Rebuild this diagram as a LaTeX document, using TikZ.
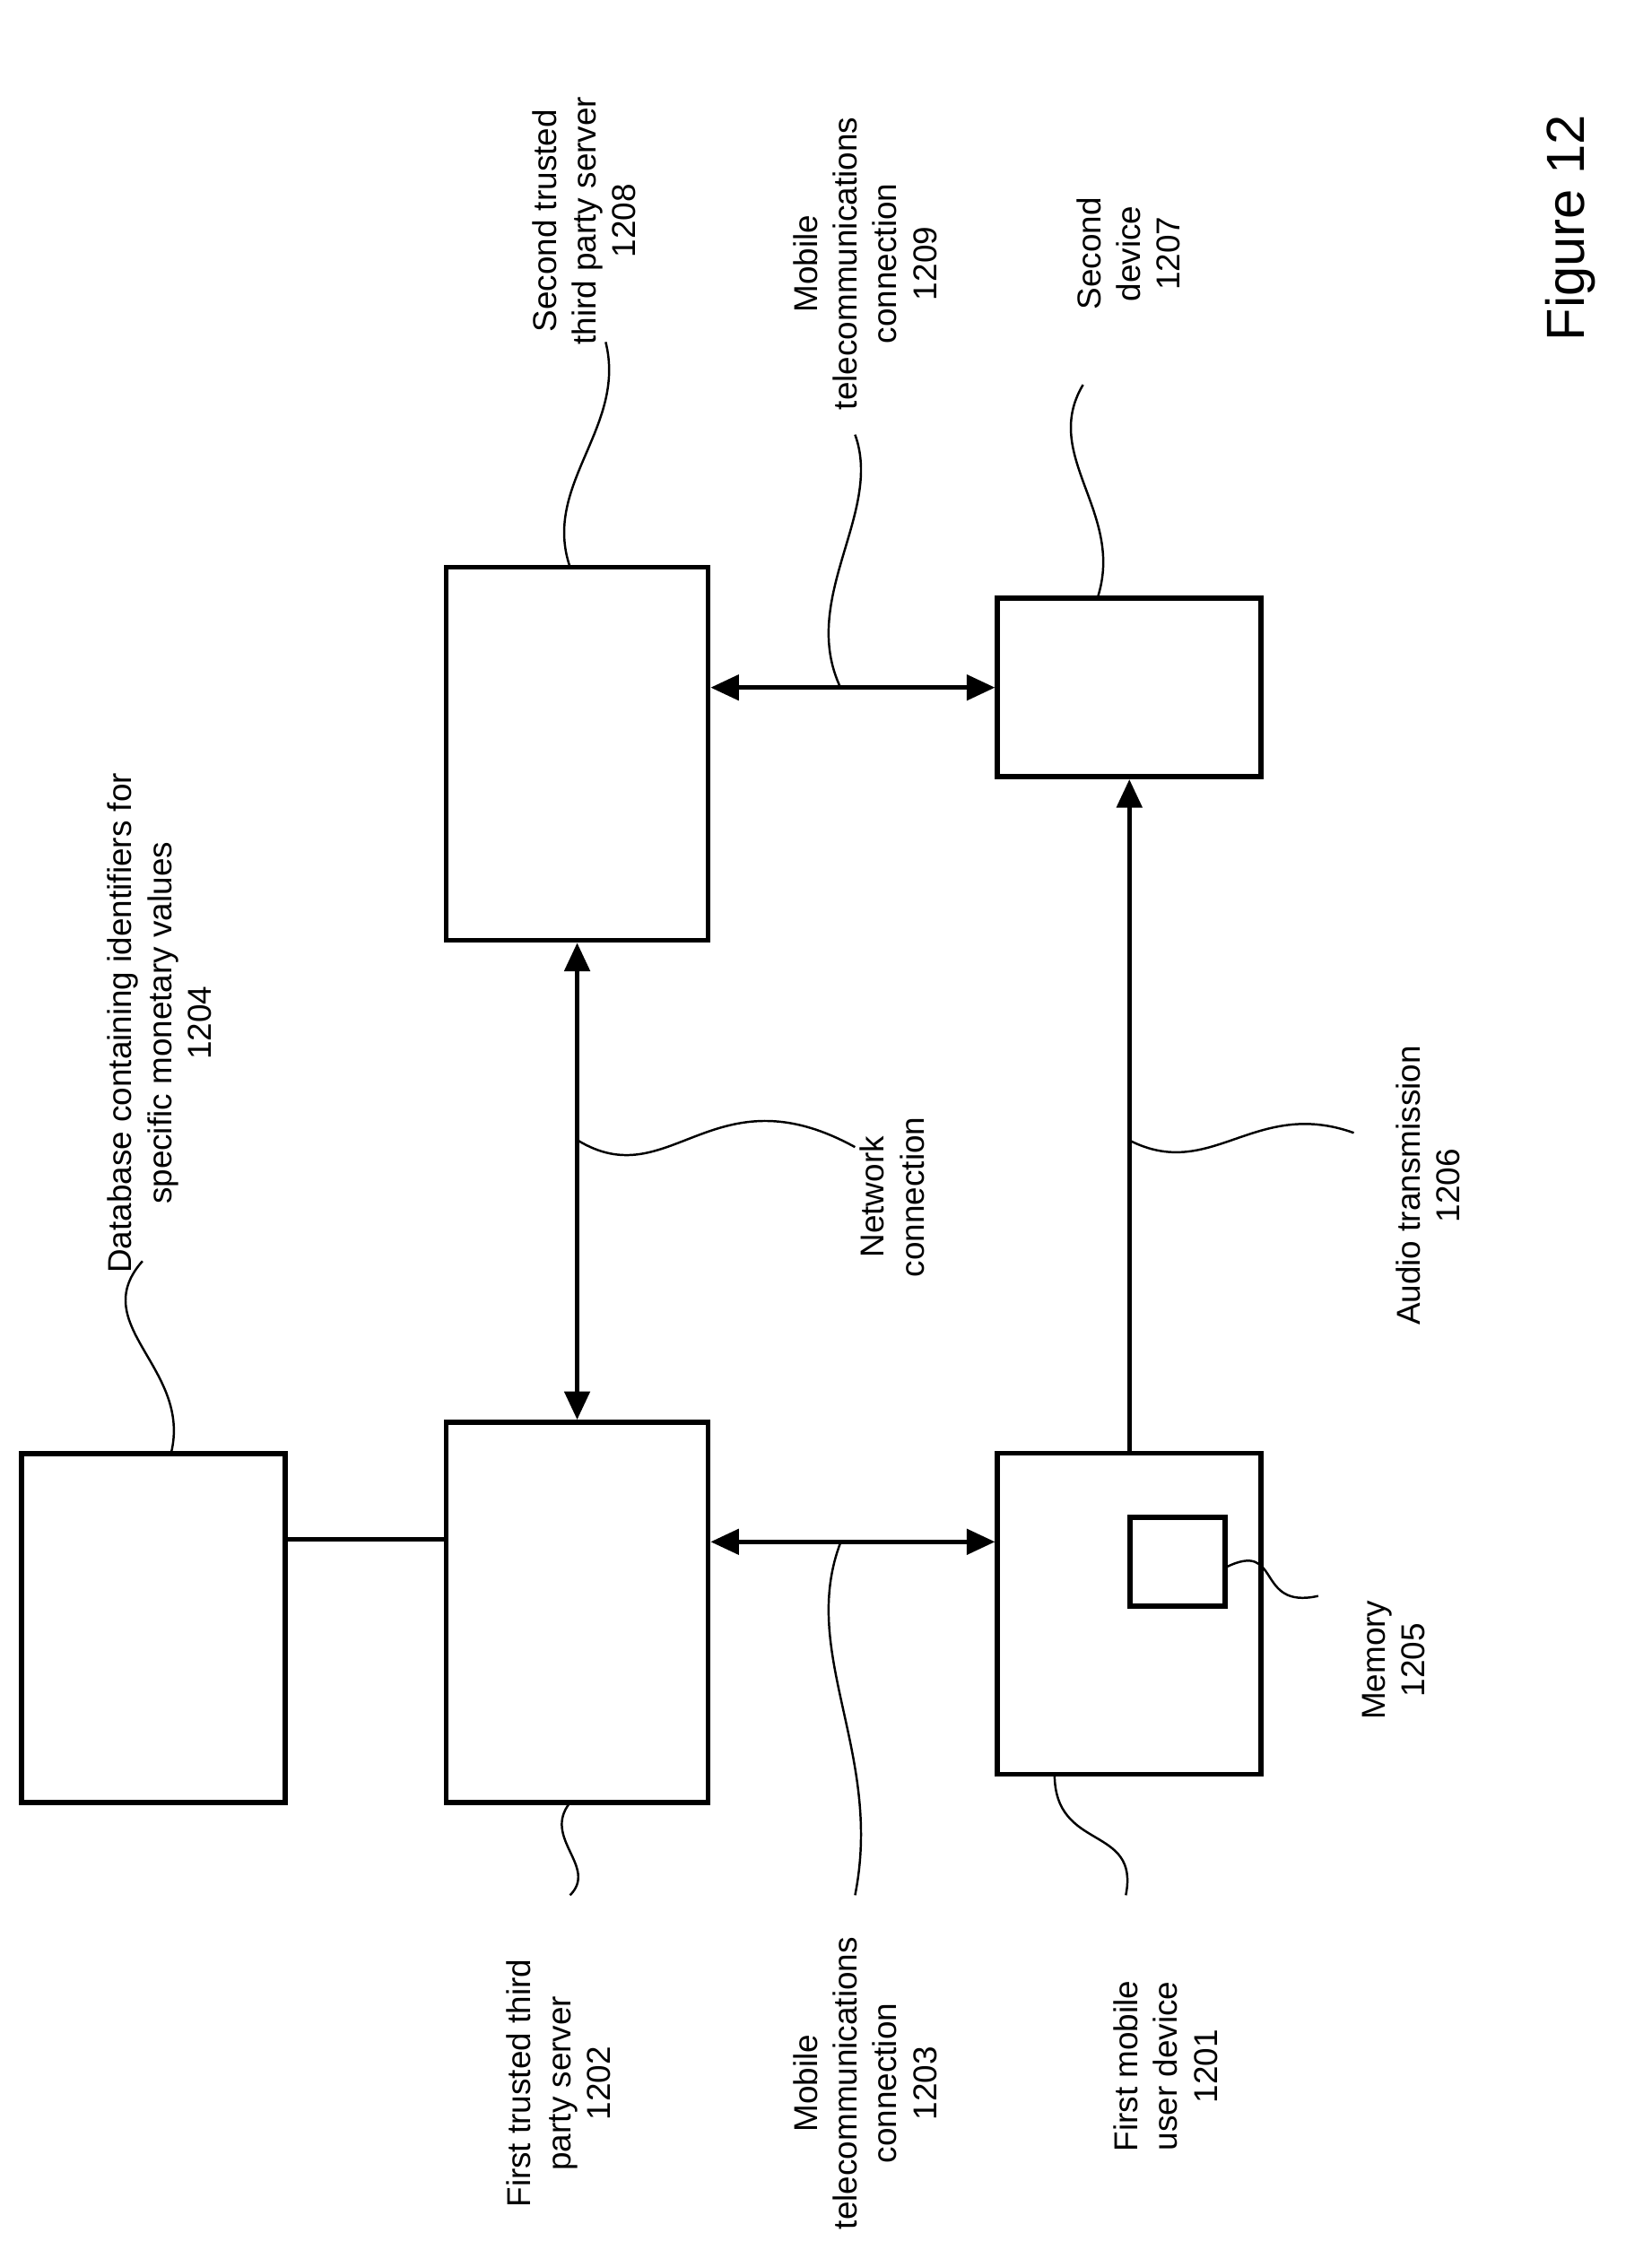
\documentclass[tikz,border=0pt]{standalone}
\usepackage{fontspec}
\setmainfont{Liberation Sans}
\usetikzlibrary{arrows.meta}
\begin{document}
\begin{tikzpicture}[x=0.1589mm,y=-0.1589mm]
  \tikzset{
    box/.style={draw, line width=1.6pt, inner sep=0pt},
    lbl/.style={rotate=90, align=center, font=\fontsize{10.5}{12.6}\selectfont, inner sep=0pt},
    link/.style={line width=1.4pt, {Triangle[length=9pt,width=8pt]}-{Triangle[length=9pt,width=8pt]}},
    lead/.style={line width=0.7pt}
  }
  \useasboundingbox (0,0) rectangle (1159,1579);

  % boxes
  \node[box, minimum width=2.94cm, minimum height=3.89cm] (db) at (107.5,1142.5) {};
  \node[box, minimum width=2.92cm, minimum height=4.24cm] (srvA) at (405,1131.5) {};
  \node[box, minimum width=2.92cm, minimum height=4.16cm] (srvB) at (405,529) {};
  \node[box, minimum width=2.94cm, minimum height=3.58cm] (devA) at (792.5,1132.5) {};
  \node[box, minimum width=1.06cm, minimum height=0.99cm] (mem) at (826.5,1096) {};
  \node[box, minimum width=2.94cm, minimum height=1.99cm] (devB) at (792.5,482.5) {};

  % connections
  \draw[line width=1.4pt] (db.east |- 0,1080) -- (srvA.west |- 0,1080);
  \draw[link] (srvB.south) -- (srvA.north);
  \draw[link] (srvA.east |- 0,1082) -- (devA.west |- 0,1082);
  \draw[link] (srvB.east |- devB.west) -- (devB.west);
  \draw[line width=1.4pt, -{Triangle[length=9pt,width=8pt]}] (devA.north) -- (devB.south);

  % labels
  \node[lbl] (tdb) at (112,718) {Database containing identifiers for\\specific monetary values\\1204};
  \node[lbl] (tsrvB) at (410,155) {Second trusted\\third party server\\1208};
  \node[lbl] (tconB) at (607,185) {Mobile\\telecommunications\\connection\\1209};
  \node[lbl] (tdevB) at (792,178) {Second\\device\\1207};
  \node[lbl, font=\fontsize{17}{20}\selectfont] (tfig) at (1102,160) {Figure 12};
  \node[lbl] (tnet) at (626,840) {Network\\connection};
  \node[lbl] (taud) at (1002,832) {Audio transmission\\1206};
  \node[lbl] (tmem) at (978,1165) {Memory\\1205};
  \node[lbl] (tsrvA) at (392,1462) {First trusted third\\party server\\1202};
  \node[lbl] (tconA) at (607,1462) {Mobile\\telecommunications\\connection\\1203};
  \node[lbl] (tdevA) at (818,1450) {First mobile\\user device\\1201};

  % leaders
  \draw[lead] (120,1020) .. controls (135,960) and (60,930) .. (100,885);
  \draw[lead] (400,398) .. controls (380,340) and (440,300) .. (425,240);
  \draw[lead] (590,483) .. controls (560,420) and (620,360) .. (600,305);
  \draw[lead] (770,420) .. controls (790,360) and (730,320) .. (760,270);
  \draw[lead] (405,800) .. controls (470,840) and (500,750) .. (600,805);
  \draw[lead] (792,800) .. controls (850,830) and (880,770) .. (950,795);
  \draw[lead] (860,1100) .. controls (900,1080) and (880,1130) .. (925,1120);
  \draw[lead] (400,1265) .. controls (380,1290) and (420,1310) .. (400,1330);
  \draw[lead] (590,1082) .. controls (560,1160) and (620,1230) .. (600,1330);
  \draw[lead] (740,1245) .. controls (740,1300) and (800,1280) .. (790,1330);
\end{tikzpicture}
\end{document}
